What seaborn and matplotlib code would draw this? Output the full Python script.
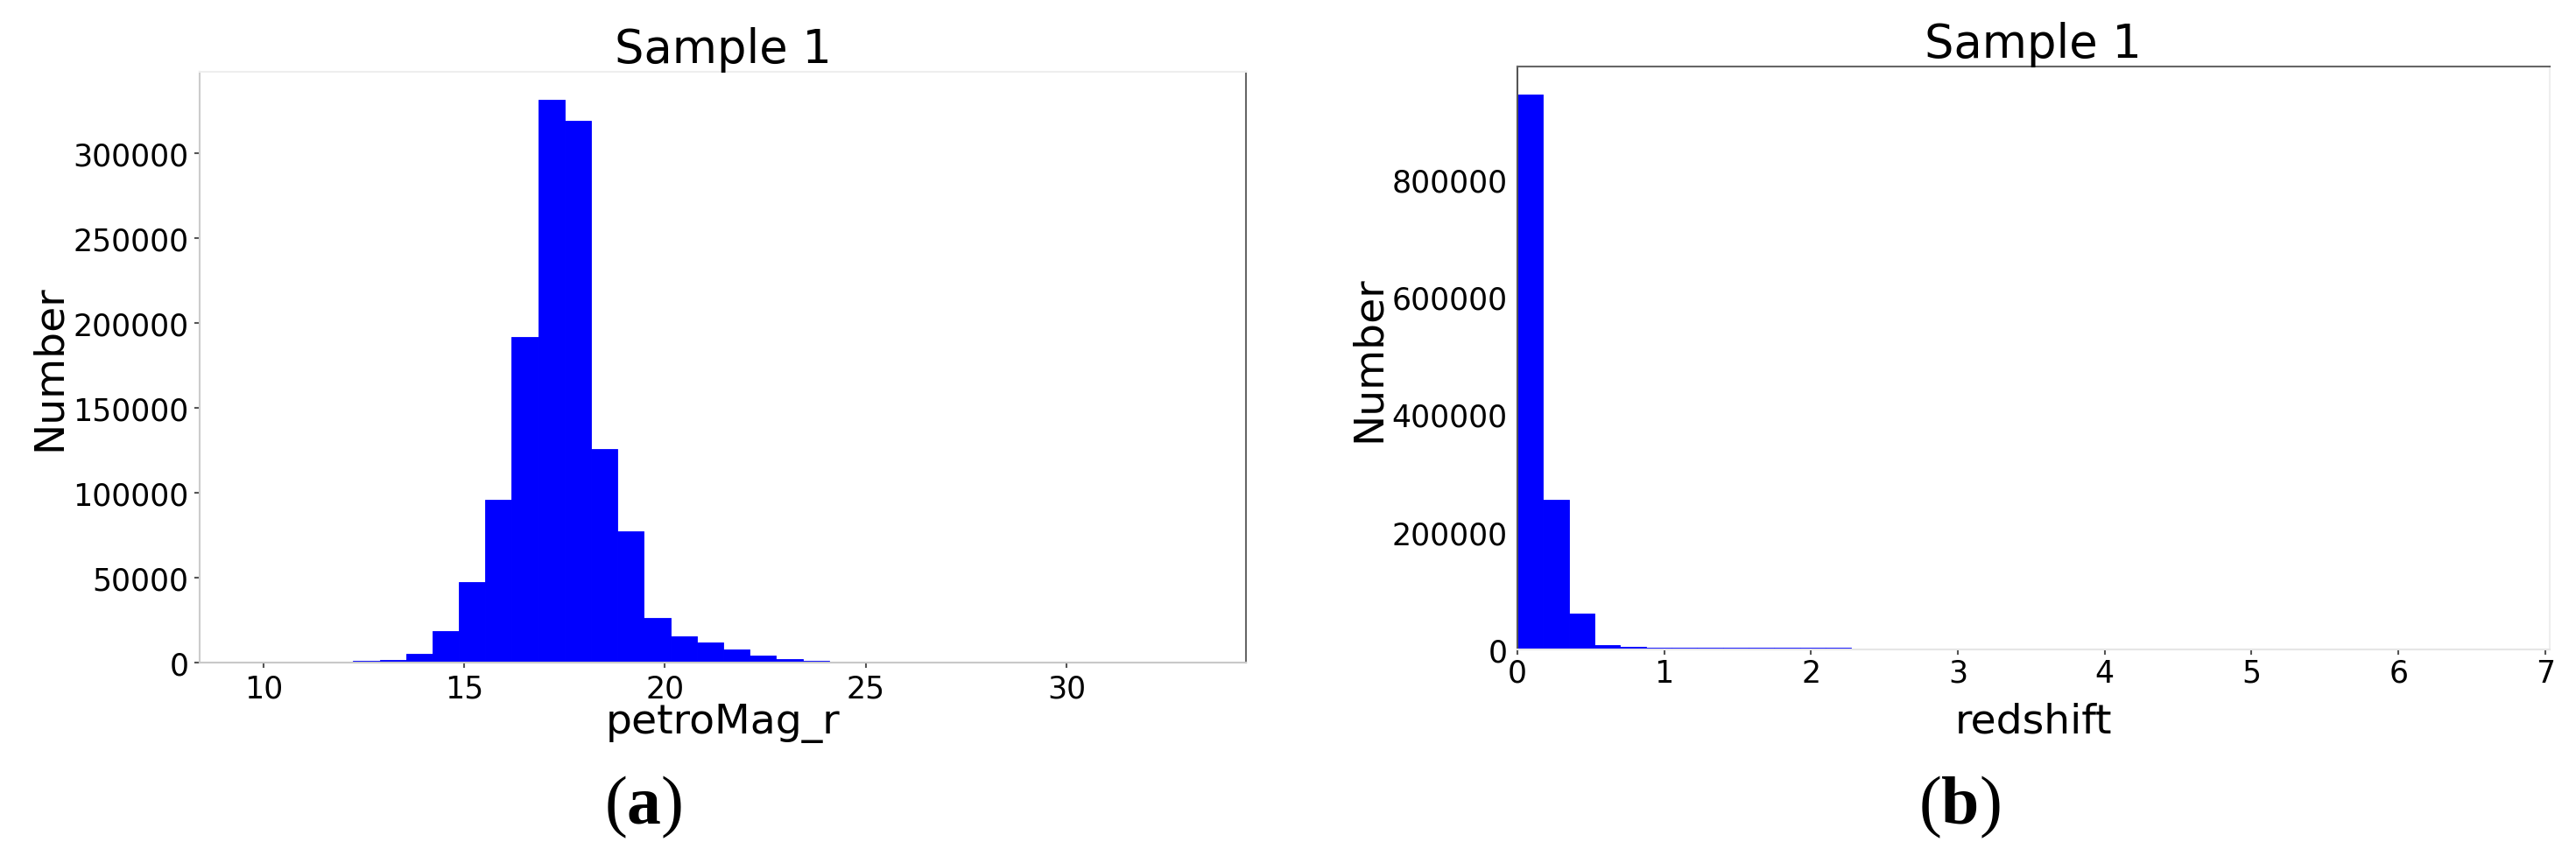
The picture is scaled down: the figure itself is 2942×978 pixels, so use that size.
import numpy as np
import pandas as pd
import matplotlib
matplotlib.use('Agg')
import matplotlib.pyplot as plt
import seaborn as sns

# Sample 1 - petroMag_r histogram, 36 equal bins over mag_range
mag_range = (9.6, 33.3)
mag_counts = [30, 60, 120, 350, 1100, 1400, 5300, 18500, 47300, 95800,
              191600, 331500, 319000, 125800, 77300, 26100, 15500, 12000,
              7600, 3900, 2300, 900, 300, 120, 60, 30, 20, 10, 8, 5,
              4, 3, 2, 2, 1, 1]

# Sample 1 - redshift histogram, 40 equal bins over z_range
z_range = (0.0, 7.0)
z_counts = [945000, 254500, 61000, 7000, 4000, 3500, 3300, 3200, 3100, 3000,
            3000, 2900, 2800, 90, 50, 30, 20, 12, 8, 6,
            5, 4, 3, 3, 2, 2, 2, 1, 1, 1,
            1, 1, 1, 1, 1, 1, 1, 1, 1, 1]

titles = ['Sample 1', 'Sample 1']
xlabels = ['petroMag_r', 'redshift']
ylabel = 'Number'
captions = ['a', 'b']

sns.set_theme(style='ticks')
plt.rcParams['font.family'] = ['DejaVu Sans']
plt.rcParams['text.color'] = 'black'
plt.rcParams['axes.labelcolor'] = 'black'
plt.rcParams['xtick.labelcolor'] = 'black'
plt.rcParams['ytick.labelcolor'] = 'black'
plt.rcParams['mathtext.fontset'] = 'custom'
plt.rcParams['mathtext.rm'] = 'Liberation Serif'
plt.rcParams['mathtext.bf'] = 'Liberation Serif:bold'


def bin_centers(lo, hi, n):
    edges = np.linspace(lo, hi, n + 1)
    return (edges[:-1] + edges[1:]) / 2


df_mag = pd.DataFrame({'value': bin_centers(*mag_range, len(mag_counts)), 'count': mag_counts})
df_z = pd.DataFrame({'value': bin_centers(*z_range, len(z_counts)), 'count': z_counts})

fig = plt.figure(figsize=(29.42, 9.79), dpi=100)
ax1 = fig.add_axes([0.0775, 0.2257, 0.4062, 0.6895])
ax2 = fig.add_axes([0.589, 0.2411, 0.4008, 0.6803])

sns.histplot(data=df_mag, x='value', weights='count', bins=len(mag_counts), binrange=mag_range,
             color='#0000ff', alpha=1, edgecolor='#0000ff', linewidth=0.6, ax=ax1)
sns.histplot(data=df_z, x='value', weights='count', bins=len(z_counts), binrange=z_range,
             color='#0000ff', alpha=1, edgecolor='#0000ff', linewidth=0.6, ax=ax2)

ax1.set_xlim(8.41, 34.47)
ax2.set_xlim(0, 7.03)

for ax, title, xl in zip([ax1, ax2], titles, xlabels):
    ax.set_title(title, fontsize=38, pad=8, color='black')
    ax.set_xlabel(xl, fontsize=34)
    ax.set_ylabel(ylabel, fontsize=34)
    ax.yaxis.set_label_coords(-0.125, 0.5)
    ax.tick_params(axis='both', labelsize=25, length=4, width=1.5, color='#555555', pad=5)
    for s in ax.spines.values():
        s.set_linewidth(1.5)

ax1.xaxis.set_label_coords(0.5, -0.068)
ax2.xaxis.set_label_coords(0.5, -0.09)
ax2.tick_params(axis='y', length=0, pad=8)
ax2.tick_params(axis='x', pad=3)

# spine colours as they appear in the scanned figure
ax1.spines['left'].set_color('#cccccc')
ax1.spines['bottom'].set_color('#c8c8c8')
ax1.spines['top'].set_color('#eeeeee')
ax1.spines['right'].set_color('#666666')
ax2.spines['left'].set_color('#555555')
ax2.spines['top'].set_color('#666666')
ax2.spines['right'].set_color('#eeeeee')
ax2.spines['bottom'].set_color('#e6e6e6')

for xc, cap in zip([735 / 2942, 2238 / 2942], captions):
    fig.text(xc, 1 - 922 / 979, r'$\mathrm{(}\mathbf{' + cap + r'}\mathrm{)}$',
             fontsize=56, ha='center', va='center')

fig.savefig('out.png', dpi=100)
